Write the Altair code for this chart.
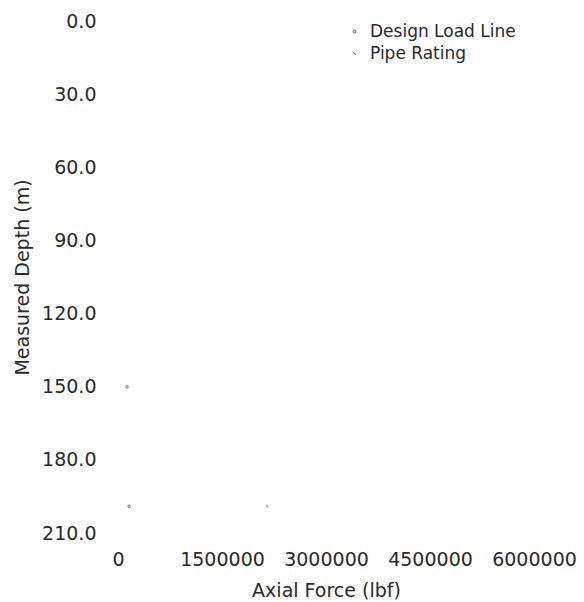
import altair as alt
import pandas as pd

# Plotted samples: axial force (lbf) against measured depth (m)
series = ["Design Load Line", "Design Load Line", "Pipe Rating"]
axial_force = [130000, 160000, 2150000]
measured_depth = [150.0, 199.0, 199.0]

# Axis tick values
depth_ticks = [0, 30, 60, 90, 120, 150, 180, 210]
force_ticks = [0, 1500000, 3000000, 4500000, 6000000]

legend_names = ["Design Load Line", "Pipe Rating"]
legend_shapes = ["circle", "M-1,-1L1,1"]

df = pd.DataFrame({"series": series, "force": axial_force, "depth": measured_depth})

FONT = "DejaVu Sans"
INK = "#2a2a2a"

chart = (
    alt.Chart(df)
    .mark_point(filled=False, size=5, strokeWidth=1.2, opacity=0.7)
    .encode(
        x=alt.X(
            "force:Q",
            scale=alt.Scale(domain=[0, 6000000], nice=False, zero=True),
            axis=alt.Axis(
                values=force_ticks,
                format="d",
                title="Axial Force (lbf)",
                labelPadding=17,
                titlePadding=12,
            ),
        ),
        y=alt.Y(
            "depth:Q",
            scale=alt.Scale(domain=[0, 210], reverse=True, nice=False),
            axis=alt.Axis(
                values=depth_ticks,
                format=".1f",
                title="Measured Depth (m)",
                labelPadding=22,
                titlePadding=9,
            ),
        ),
        shape=alt.Shape(
            "series:N",
            scale=alt.Scale(domain=legend_names, range=legend_shapes),
            legend=alt.Legend(
                title=None,
                orient="none",
                legendX=228,
                legendY=2,
                symbolSize=8,
                symbolStrokeWidth=1.2,
                symbolStrokeColor="#555555",
                labelFontSize=17,
                labelFont=FONT,
                labelColor=INK,
                rowPadding=4,
                labelOffset=7,
            ),
        ),
        color=alt.value("#666666"),
    )
    .properties(
        width=416,
        height=512,
        padding={"left": 118, "top": 21, "right": 50, "bottom": 69},
        autosize="none",
    )
    .configure_view(stroke=None)
    .configure_axis(
        grid=False,
        domain=False,
        ticks=False,
        labelFont=FONT,
        labelFontSize=19,
        labelColor=INK,
        titleFont=FONT,
        titleFontSize=19,
        titleFontWeight="normal",
        titleColor=INK,
    )
    .configure_axisX(labelFlush=False)
)

chart.save("out.html", embed_options={"renderer": "svg", "actions": False})
